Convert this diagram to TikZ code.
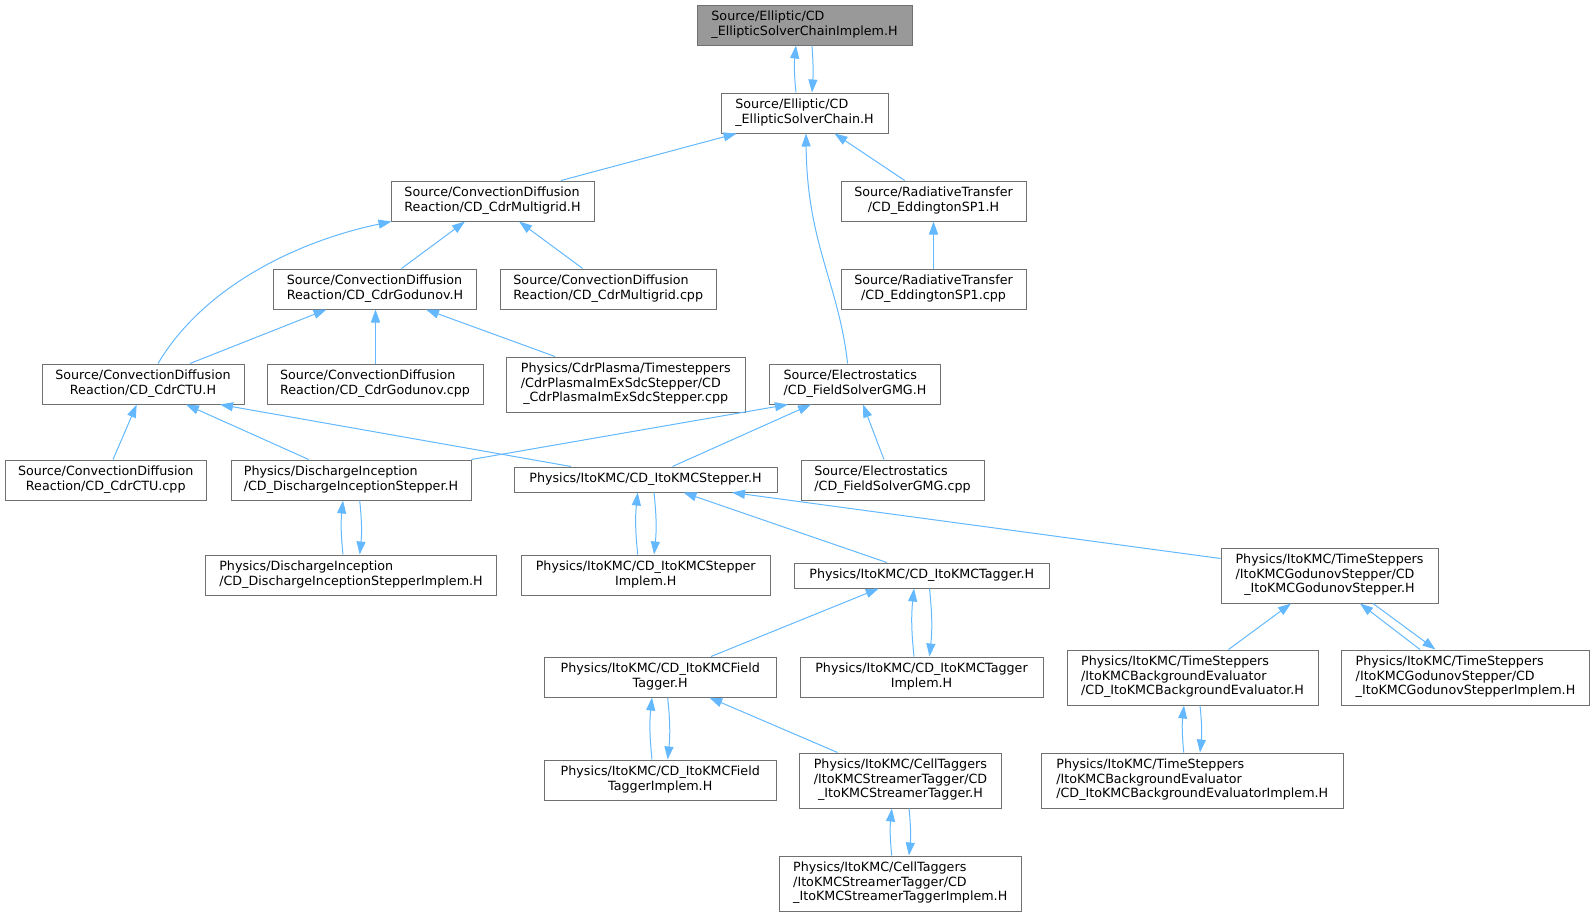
\documentclass[tikz,border=0pt]{standalone}
\usepackage{fontspec}
\setmainfont{DejaVu Sans}
\usetikzlibrary{arrows.meta}
\definecolor{edgec}{HTML}{63B8FF}
\definecolor{bordc}{HTML}{707070}
\definecolor{rootc}{HTML}{999999}
\newcommand\lc[1]{\multicolumn{1}{@{}c@{}}{#1}}
\newcommand\tx[1]{\begin{tabular}{@{}l@{}}#1\end{tabular}}
\newcommand\bx[7][]{\node[box,#1,minimum width={#5-#3},minimum height={#6-#4}] (#2) at ({(#3+#5)/2},{(#4+#6)/2}) {\tx{#7}};}
\begin{document}
\begin{tikzpicture}[x=1pt,y=-1pt,
  box/.style={draw=bordc,fill=white,line width=1pt,inner sep=0pt,font=\fontsize{12.7}{14.5}\selectfont},
  rootbox/.style={fill=rootc},
  arr/.style={draw=edgec,line width=1pt,-{Triangle[length=13pt,width=9pt]}}]
\useasboundingbox (0,0) rectangle (1595,916);
% nodes
\bx[rootbox]{root}{697}{5}{912}{45}{Source/Elliptic/CD\\ \lc{\_EllipticSolverChainImplem.H}}
\bx{chain}{721}{93}{888}{133}{Source/Elliptic/CD\\ \lc{\_EllipticSolverChain.H}}
\bx{mg}{391}{181}{594}{221}{Source/ConvectionDiffusion\\ \lc{Reaction/CD\_CdrMultigrid.H}}
\bx{god}{273.5}{269}{476.5}{309}{Source/ConvectionDiffusion\\ \lc{Reaction/CD\_CdrGodunov.H}}
\bx{mgcpp}{500.5}{269}{716}{309}{Source/ConvectionDiffusion\\ \lc{Reaction/CD\_CdrMultigrid.cpp}}
\bx{edd}{841}{181}{1026}{221}{Source/RadiativeTransfer\\ \lc{/CD\_EddingtonSP1.H}}
\bx{eddcpp}{841}{269}{1026}{309}{Source/RadiativeTransfer\\ \lc{/CD\_EddingtonSP1.cpp}}
\bx{ctu}{42}{364}{244}{404}{Source/ConvectionDiffusion\\ \lc{Reaction/CD\_CdrCTU.H}}
\bx{godcpp}{267}{364}{483}{404}{Source/ConvectionDiffusion\\ \lc{Reaction/CD\_CdrGodunov.cpp}}
\bx{sdc}{506.5}{357}{745}{412}{Physics/CdrPlasma/Timesteppers\\ /CdrPlasmaImExSdcStepper/CD\\ \lc{\_CdrPlasmaImExSdcStepper.cpp}}
\bx{gmg}{769.5}{364}{940.5}{404}{Source/Electrostatics\\ \lc{/CD\_FieldSolverGMG.H}}
\bx{ctucpp}{5}{460}{206.5}{500}{Source/ConvectionDiffusion\\ \lc{Reaction/CD\_CdrCTU.cpp}}
\bx{dis}{231}{460}{471}{500}{Physics/DischargeInception\\ \lc{/CD\_DischargeInceptionStepper.H}}
\bx{ito}{514}{467}{777}{492}{\lc{Physics/ItoKMC/CD\_ItoKMCStepper.H}}
\bx{gmgcpp}{801}{460}{984}{500}{Source/Electrostatics\\ \lc{/CD\_FieldSolverGMG.cpp}}
\bx{disimp}{205.5}{555}{496.5}{595}{Physics/DischargeInception\\ \lc{/CD\_DischargeInceptionStepperImplem.H}}
\bx{itoimp}{521}{555}{770.5}{595}{Physics/ItoKMC/CD\_ItoKMCStepper\\ \lc{Implem.H}}
\bx{tag}{794.5}{563}{1049}{588}{\lc{Physics/ItoKMC/CD\_ItoKMCTagger.H}}
\bx{gs}{1221}{548}{1438}{603}{Physics/ItoKMC/TimeSteppers\\ /ItoKMCGodunovStepper/CD\\ \lc{\_ItoKMCGodunovStepper.H}}
\bx{ft}{544.5}{657}{776}{697}{Physics/ItoKMC/CD\_ItoKMCField\\ \lc{Tagger.H}}
\bx{tagimp}{800}{657}{1043}{697}{Physics/ItoKMC/CD\_ItoKMCTagger\\ \lc{Implem.H}}
\bx{bg}{1067}{650}{1318}{705}{Physics/ItoKMC/TimeSteppers\\ /ItoKMCBackgroundEvaluator\\ \lc{/CD\_ItoKMCBackgroundEvaluator.H}}
\bx{gsimp}{1341.5}{650}{1589.5}{705}{Physics/ItoKMC/TimeSteppers\\ /ItoKMCGodunovStepper/CD\\ \lc{\_ItoKMCGodunovStepperImplem.H}}
\bx{ftimp}{544.5}{760}{776}{800}{Physics/ItoKMC/CD\_ItoKMCField\\ \lc{TaggerImplem.H}}
\bx{st}{799.5}{753}{1001.5}{808}{Physics/ItoKMC/CellTaggers\\ /ItoKMCStreamerTagger/CD\\ \lc{\_ItoKMCStreamerTagger.H}}
\bx{bgimp}{1041}{753}{1343.5}{808}{Physics/ItoKMC/TimeSteppers\\ /ItoKMCBackgroundEvaluator\\ \lc{/CD\_ItoKMCBackgroundEvaluatorImplem.H}}
\bx{stimp}{779}{856}{1021.5}{911}{Physics/ItoKMC/CellTaggers\\ /ItoKMCStreamerTagger/CD\\ \lc{\_ItoKMCStreamerTaggerImplem.H}}
% edges (arrow at the including file)
\draw[arr] ([xshift=-8.5pt]chain.north) to[bend left=6] ([xshift=-8.5pt]root.south);
\draw[arr] ([xshift=7.5pt]root.south) to[bend left=4] ([xshift=7.5pt]chain.north);
\draw[arr] ([xshift=68.5pt]mg.north) -- ([xshift=-68pt]chain.south);
\draw[arr] ([xshift=-7.4pt]gmg.north) .. controls +(-9,-80) and +(1,110) .. ([xshift=1.5pt]chain.south);
\draw[arr] ([xshift=-28.8pt]edd.north) -- ([xshift=30pt]chain.south);
\draw[arr] (eddcpp.north) -- (edd.south);
\draw[arr] ([xshift=15pt]ctu.north) .. controls +(47,-79) and +(-91,19) .. ([xshift=1pt]mg.south west);
\draw[arr] ([xshift=26.5pt]god.north) -- ([xshift=-27.5pt]mg.south);
\draw[arr] ([xshift=-25.6pt]mgcpp.north) -- ([xshift=26.5pt]mg.south);
\draw[arr] ([xshift=47pt]ctu.north) -- ([xshift=-48.5pt]god.south);
\draw[arr] ([xshift=0.5pt]godcpp.north) -- ([xshift=0.5pt]god.south);
\draw[arr] ([xshift=-70.75pt]sdc.north) -- ([xshift=51pt]god.south);
\draw[arr] ([xshift=7.25pt]ctucpp.north) -- ([xshift=-6.3pt]ctu.south);
\draw[arr] ([xshift=-42.3pt]dis.north) -- ([xshift=43pt]ctu.south);
\draw[arr] ([xshift=-74.5pt]ito.north) -- ([xshift=77pt]ctu.south);
\draw[arr] (dis.north east) -- ([xshift=-67pt]gmg.south);
\draw[arr] ([xshift=27pt]ito.north) -- ([xshift=-44pt]gmg.south);
\draw[arr] ([xshift=-8.5pt]gmgcpp.north) -- ([xshift=8pt]gmg.south);
\draw[arr] ([xshift=-8pt]disimp.north) to[bend left=6] ([xshift=-8pt]dis.south);
\draw[arr] ([xshift=8.7pt]dis.south) to[bend left=6] ([xshift=8.7pt]disimp.north);
\draw[arr] ([xshift=-8pt]itoimp.north) to[bend left=6] ([xshift=-7.8pt]ito.south);
\draw[arr] ([xshift=8.5pt]ito.south) to[bend left=6] ([xshift=8.3pt]itoimp.north);
\draw[arr] ([xshift=-35pt]tag.north) -- ([xshift=38pt]ito.south);
\draw[arr] ([yshift=-11pt]gs.north west) -- ([xshift=86.5pt]ito.south);
\draw[arr] ([xshift=50.75pt]ft.north) -- ([xshift=-43pt]tag.south);
\draw[arr] ([xshift=-7.5pt]tagimp.north) to[bend left=6] ([xshift=-7.75pt]tag.south);
\draw[arr] ([xshift=7.75pt]tag.south) to[bend left=6] ([xshift=8pt]tagimp.north);
\draw[arr] ([xshift=-8.25pt]ftimp.north) to[bend left=6] ([xshift=-8.25pt]ft.south);
\draw[arr] ([xshift=7.4pt]ft.south) to[bend left=6] ([xshift=7.4pt]ftimp.north);
\draw[arr] ([xshift=-63pt]st.north) -- ([xshift=49pt]ft.south);
\draw[arr] ([xshift=-8.5pt]stimp.north) to[bend left=6] ([xshift=-8.6pt]st.south);
\draw[arr] ([xshift=8.5pt]st.south) to[bend left=6] ([xshift=8.7pt]stimp.north);
\draw[arr] ([xshift=36pt]bg.north) -- ([xshift=-38.5pt]gs.south);
\draw[arr] ([xshift=-45.5pt]gsimp.north) -- ([xshift=30.5pt]gs.south);
\draw[arr] ([xshift=43.5pt]gs.south) -- ([xshift=-30pt]gsimp.north);
\draw[arr] ([xshift=-8.5pt]bgimp.north) to[bend left=6] ([xshift=-8.5pt]bg.south);
\draw[arr] ([xshift=7.5pt]bg.south) to[bend left=6] ([xshift=7.75pt]bgimp.north);
\end{tikzpicture}
\end{document}
